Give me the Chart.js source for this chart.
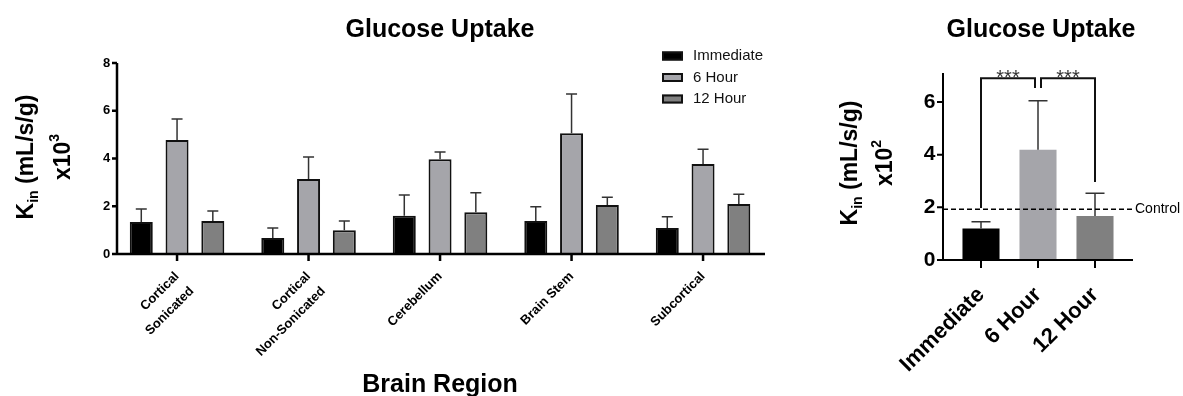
<!DOCTYPE html>
<html>
<head>
<meta charset="utf-8">
<script src="https://cdn.jsdelivr.net/npm/chart.js@4.4.0/dist/chart.umd.min.js"></script>
<style>
  html, body { margin: 0; padding: 0; background: #fff; }
  body { width: 1183px; height: 396px; position: relative; overflow: hidden; }
  canvas { position: absolute; top: 0; }
  #regionChart { left: 0; }
  #timeChart { left: 820px; }
</style>
</head>
<body>
<canvas id="regionChart" width="800" height="396"></canvas>
<canvas id="timeChart" width="363" height="396"></canvas>
<script>
// Values (means and upper SEM whiskers)
const regionLabels = [['Cortical', 'Sonicated'], ['Cortical', 'Non-Sonicated'], 'Cerebellum', 'Brain Stem', 'Subcortical'];
const seriesNames = ['Immediate', '6 Hour', '12 Hour'];
const immediateMeans = [1.34, 0.67, 1.60, 1.38, 1.09];
const immediateErr = [0.54, 0.42, 0.87, 0.60, 0.47];
const sixHourMeans = [4.77, 3.14, 3.97, 5.06, 3.77];
const sixHourErr = [0.88, 0.92, 0.30, 1.64, 0.62];
const twelveHourMeans = [1.38, 1.00, 1.75, 2.05, 2.09];
const twelveHourErr = [0.42, 0.38, 0.82, 0.33, 0.41];
const regionTicks = [0, 2, 4, 6, 8];

const timeLabels = ['Immediate', '6 Hour', '12 Hour'];
const timeMeans = [1.20, 4.19, 1.67];
const timeErr = [0.25, 1.86, 0.86];
const timeTicks = [0, 2, 4, 6];
const controlLevel = 1.93;

// Significance brackets: from bar, to bar, height, foot of each leg
const bracketFrom = [0, 1];
const bracketTo = [1, 2];
const bracketTop = [6.9, 6.9];
const bracketLegEnds = [[1.97, 6.53], [6.53, 2.96]];
const bracketText = ['***', '***'];

const FONT = "Arial, 'Liberation Sans', Helvetica, sans-serif";
const colors = ['#000000', '#a5a5aa', '#808080'];

Chart.defaults.font.family = FONT;
Chart.defaults.color = '#000';

// Two-line rotated y title, with subscript "in" and a superscript exponent
function drawYTitle(ctx, x1, x2, cy, exp) {
    const big = 'bold 23px ' + FONT;
    const small = 'bold 14px ' + FONT;
    const lines = [
        [x1, [['K', big, 0], ['in', small, 5], [' (mL/s/g)', big, 0]]],
        [x2, [['x10', big, 0], [exp, small, -11]]]
    ];
    ctx.save();
    ctx.fillStyle = '#000';
    ctx.textAlign = 'left';
    ctx.textBaseline = 'alphabetic';
    lines.forEach(([x, parts]) => {
        let w = 0;
        parts.forEach(p => { ctx.font = p[1]; w += ctx.measureText(p[0]).width; });
        ctx.save();
        ctx.translate(x, cy);
        ctx.rotate(-Math.PI / 2);
        let pos = -w / 2;
        parts.forEach(p => {
            ctx.font = p[1];
            ctx.fillText(p[0], pos, p[2]);
            pos += ctx.measureText(p[0]).width;
        });
        ctx.restore();
    });
    ctx.restore();
}

// Axes, whiskers, titles, legend and annotations
const decoPlugin = {
    id: 'deco',
    afterDatasetsDraw(chart, args, opts) {
        const { ctx, chartArea: a } = chart;
        const x = chart.scales.x, y = chart.scales.y;
        ctx.save();

        // upper error whiskers
        ctx.strokeStyle = '#333';
        ctx.lineWidth = 1.5;
        chart.data.datasets.forEach((ds, di) => {
            chart.getDatasetMeta(di).data.forEach((bar, i) => {
                const top = y.getPixelForValue(ds.data[i] + ds.errors[i]);
                ctx.beginPath();
                ctx.moveTo(bar.x, bar.y);
                ctx.lineTo(bar.x, top);
                ctx.moveTo(bar.x - opts.capWidth / 2, top);
                ctx.lineTo(bar.x + opts.capWidth / 2, top);
                ctx.stroke();
            });
        });

        // control line
        if (opts.control) {
            const cy = y.getPixelForValue(opts.control.value);
            ctx.setLineDash([5, 3]);
            ctx.strokeStyle = '#000';
            ctx.lineWidth = 1.5;
            ctx.beginPath();
            ctx.moveTo(a.left + opts.axisInset[0], cy);
            ctx.lineTo(a.right + opts.control.extend, cy);
            ctx.stroke();
            ctx.setLineDash([]);
            ctx.fillStyle = '#000';
            ctx.font = '14px ' + FONT;
            ctx.textAlign = 'left';
            ctx.textBaseline = 'middle';
            ctx.fillText(opts.control.text, a.right + opts.control.extend + 3, cy);
        }

        // axis lines and tick marks
        const x0 = a.left + opts.axisInset[0];
        const x1 = a.right + opts.axisInset[1];
        const yTop = y.getPixelForValue(y.max);
        const y0 = a.bottom;
        ctx.strokeStyle = '#000';
        ctx.lineWidth = opts.axisWidth;
        ctx.beginPath();
        ctx.moveTo(x0, yTop);
        ctx.lineTo(x0, y0);
        ctx.lineTo(x1, y0);
        y.ticks.forEach(t => {
            const py = y.getPixelForValue(t.value);
            ctx.moveTo(x0 - opts.tickLen, py);
            ctx.lineTo(x0, py);
        });
        x.ticks.forEach((t, i) => {
            const px = x.getPixelForTick(i);
            ctx.moveTo(px, y0);
            ctx.lineTo(px, y0 + opts.tickLen + 2);
        });
        ctx.stroke();

        // significance brackets
        if (opts.brackets) {
            const b = opts.brackets;
            ctx.strokeStyle = '#111';
            ctx.lineWidth = 2;
            b.from.forEach((from, k) => {
                const xa = x.getPixelForValue(from) + (from > 0 ? b.gap : 0);
                const xb = x.getPixelForValue(b.to[k]) - (b.to[k] === 1 ? b.gap : 0);
                const yt = y.getPixelForValue(b.top[k]);
                ctx.beginPath();
                ctx.moveTo(xa, y.getPixelForValue(b.legs[k][0]));
                ctx.lineTo(xa, yt);
                ctx.lineTo(xb, yt);
                ctx.lineTo(xb, y.getPixelForValue(b.legs[k][1]));
                ctx.stroke();
                ctx.fillStyle = '#333';
                ctx.font = '20px ' + FONT;
                ctx.textAlign = 'center';
                ctx.textBaseline = 'alphabetic';
                ctx.fillText(b.text[k], (xa + xb) / 2, yt + 6);
            });
        }

        // legend
        if (opts.legend) {
            const L = opts.legend;
            ctx.font = '15px ' + FONT;
            ctx.textAlign = 'left';
            ctx.textBaseline = 'middle';
            chart.data.datasets.forEach((ds, i) => {
                const cy = L.y + i * L.gap;
                ctx.fillStyle = ds.backgroundColor;
                ctx.fillRect(L.x, cy - 4.5, 21, 9);
                ctx.strokeStyle = ds.borderColor;
                ctx.lineWidth = 2;
                ctx.strokeRect(L.x + 1, cy - 3.5, 19, 7);
                ctx.fillStyle = '#111';
                ctx.fillText(ds.label, L.x + 31, cy);
            });
        }

        // titles
        ctx.fillStyle = '#000';
        ctx.textAlign = 'center';
        ctx.textBaseline = 'alphabetic';
        ctx.font = 'bold 25px ' + FONT;
        ctx.fillText(opts.title, opts.titleX, 37);
        if (opts.xTitle) ctx.fillText(opts.xTitle, (a.left + a.right) / 2, 392);
        drawYTitle(ctx, opts.yTitle.x1, opts.yTitle.x2, opts.yTitle.cy, opts.yTitle.exp);

        ctx.restore();
    }
};

const regionSeries = [
    { means: immediateMeans, errs: immediateErr },
    { means: sixHourMeans, errs: sixHourErr },
    { means: twelveHourMeans, errs: twelveHourErr }
];

new Chart(document.getElementById('regionChart'), {
    type: 'bar',
    data: {
        labels: regionLabels,
        datasets: regionSeries.map((s, i) => ({
            label: seriesNames[i],
            data: s.means,
            errors: s.errs,
            backgroundColor: colors[i],
            borderColor: '#111',
            borderWidth: 2,
            categoryPercentage: 0.816,
            barPercentage: 0.643
        }))
    },
    options: {
        responsive: false,
        animation: false,
        layout: { padding: { left: 0, right: 31.2, top: 63, bottom: 0 } },
        plugins: {
            legend: { display: false },
            tooltip: { enabled: false },
            deco: {
                capWidth: 11,
                axisInset: [5.7, -3.8],
                axisWidth: 2.5,
                tickLen: 5,
                title: 'Glucose Uptake',
                titleX: 440,
                xTitle: 'Brain Region',
                yTitle: { x1: 33, x2: 70, cy: 157, exp: '3' },
                legend: { x: 662, y: 56, gap: 21.5 }
            }
        },
        scales: {
            x: {
                grid: { display: false, drawTicks: false },
                border: { display: false },
                ticks: { autoSkip: false, minRotation: 45, maxRotation: 45, padding: 13, font: { size: 13, weight: 'bold', lineHeight: 1.6 } },
                afterFit: s => { s.height = 142; }
            },
            y: {
                min: 0,
                max: 8,
                grid: { display: false, drawTicks: false },
                border: { display: false },
                ticks: { padding: 1, font: { size: 13, weight: 'bold' } },
                afterBuildTicks: s => { s.ticks = regionTicks.map(v => ({ value: v })); },
                afterFit: s => { s.width = 111.3; }
            }
        }
    },
    plugins: [decoPlugin]
});

new Chart(document.getElementById('timeChart'), {
    type: 'bar',
    data: {
        labels: timeLabels,
        datasets: [{
            label: 'Glucose Uptake',
            data: timeMeans,
            errors: timeErr,
            backgroundColor: colors,
            borderWidth: 0,
            categoryPercentage: 1,
            barPercentage: 0.65
        }]
    },
    options: {
        responsive: false,
        animation: false,
        layout: { padding: { left: 0, right: 59.5, top: 73, bottom: 0 } },
        plugins: {
            legend: { display: false },
            tooltip: { enabled: false },
            deco: {
                capWidth: 19,
                axisInset: [-9.5, 9.5],
                axisWidth: 2,
                tickLen: 6,
                title: 'Glucose Uptake',
                titleX: 221,
                yTitle: { x1: 37, x2: 72, cy: 163, exp: '2' },
                control: { value: controlLevel, extend: 8.5, text: 'Control' },
                brackets: { from: bracketFrom, to: bracketTo, top: bracketTop, legs: bracketLegEnds, text: bracketText, gap: 3 }
            }
        },
        scales: {
            x: {
                grid: { display: false, drawTicks: false },
                border: { display: false },
                ticks: { autoSkip: false, minRotation: 45, maxRotation: 45, padding: 22, font: { size: 22, weight: 'bold' } },
                afterFit: s => { s.height = 136; }
            },
            y: {
                min: 0,
                max: 7.1,
                grid: { display: false, drawTicks: false },
                border: { display: false },
                ticks: { padding: 17, font: { size: 21, weight: 'bold' } },
                afterBuildTicks: s => { s.ticks = timeTicks.map(v => ({ value: v })); },
                afterFit: s => { s.width = 132.5; }
            }
        }
    },
    plugins: [decoPlugin]
});
</script>
</body>
</html>
